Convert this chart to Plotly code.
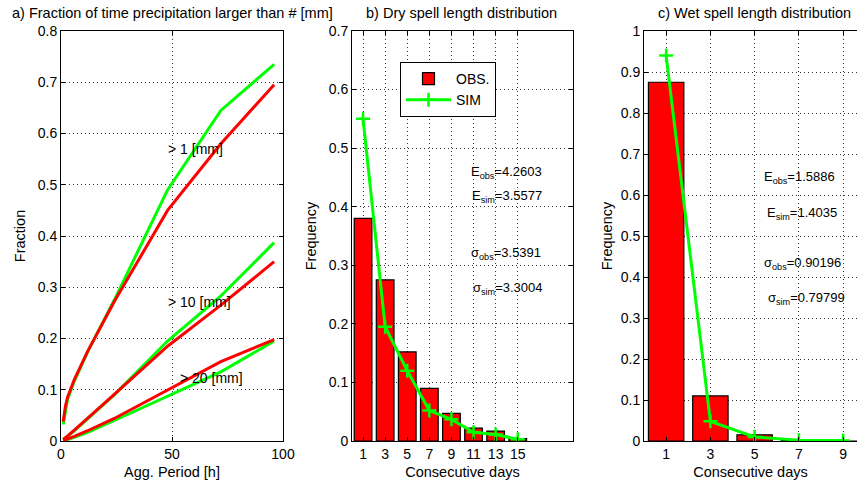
import plotly.graph_objects as go

# ---------------- data ----------------
agg_hours = [1, 2, 3, 6, 12, 24, 48, 72, 96]
obs_gt1 = [0.038, 0.068, 0.086, 0.12, 0.175, 0.272, 0.45, 0.58, 0.695]
sim_gt1 = [0.032, 0.062, 0.082, 0.117, 0.174, 0.275, 0.49, 0.645, 0.735]
obs_gt10 = [0.003, 0.006, 0.01, 0.021, 0.044, 0.091, 0.185, 0.265, 0.35]
sim_gt10 = [0.002, 0.005, 0.009, 0.02, 0.043, 0.09, 0.195, 0.283, 0.387]
obs_gt20 = [0.001, 0.002, 0.004, 0.009, 0.02, 0.044, 0.1, 0.155, 0.198]
sim_gt20 = [0.0, 0.001, 0.003, 0.007, 0.017, 0.04, 0.088, 0.135, 0.195]
threshold_labels = ["> 1 [mm]", "> 10 [mm]", "> 20 [mm]"]
threshold_label_x = [47.5, 47.5, 52.5]
threshold_label_y = [0.57, 0.271, 0.123]

dry_days = [1, 3, 5, 7, 9, 11, 13, 15]
dry_obs = [0.38, 0.275, 0.152, 0.09, 0.047, 0.022, 0.017, 0.004]
dry_sim = [0.55, 0.195, 0.12, 0.052, 0.037, 0.015, 0.011, 0.003]
dry_stats = ["E<sub>obs</sub>=4.2603", "E<sub>sim</sub>=3.5577",
             "σ<sub>obs</sub>=3.5391", "σ<sub>sim</sub>=3.3004"]
dry_stats_x = [10.6, 10.7, 10.6, 10.8]
dry_stats_y = [0.458, 0.418, 0.32, 0.26]

wet_days = [1, 3, 5, 7, 9]
wet_obs = [0.875, 0.11, 0.015, 0.002, 0.0]
wet_sim = [0.94, 0.048, 0.01, 0.002, 0.001]
wet_stats = ["E<sub>obs</sub>=1.5886", "E<sub>sim</sub>=1.4035",
             "σ<sub>obs</sub>=0.90196", "σ<sub>sim</sub>=0.79799"]
wet_stats_x = [5.35, 5.45, 5.35, 5.5]
wet_stats_y = [0.642, 0.556, 0.434, 0.348]

RED = "#ff0000"
GREEN = "#00ff00"
FONT = "Liberation Sans, Arial, sans-serif"

W, H = 857, 483
fig = go.Figure()

# ---------------- panel a ----------------
for obs, sim in [(obs_gt1, sim_gt1), (obs_gt10, sim_gt10), (obs_gt20, sim_gt20)]:
    fig.add_trace(go.Scatter(x=agg_hours, y=sim, mode="lines", line=dict(color=GREEN, width=3),
                             showlegend=False, xaxis="x", yaxis="y"))
    fig.add_trace(go.Scatter(x=agg_hours, y=obs, mode="lines", line=dict(color=RED, width=3),
                             showlegend=False, xaxis="x", yaxis="y"))
for t, xx, yy in zip(threshold_labels, threshold_label_x, threshold_label_y):
    fig.add_annotation(x=xx, y=yy, xref="x", yref="y", text=t, showarrow=False,
                       xanchor="left", yanchor="middle", align="left",
                       font=dict(size=14, color="black"))

# ---------------- panel b ----------------
fig.add_trace(go.Bar(x=dry_days, y=dry_obs, width=1.6, name="OBS.",
                     marker=dict(color=RED, line=dict(color="black", width=1.2)),
                     xaxis="x2", yaxis="y2"))
fig.add_trace(go.Scatter(x=dry_days, y=dry_sim, mode="lines+markers", name="SIM",
                         line=dict(color=GREEN, width=3),
                         marker=dict(symbol="cross-thin", size=10, color=GREEN,
                                     line=dict(color=GREEN, width=2.5)),
                         xaxis="x2", yaxis="y2"))
for t, xx, yy in zip(dry_stats, dry_stats_x, dry_stats_y):
    fig.add_annotation(x=xx, y=yy, xref="x2", yref="y2", text=t, showarrow=False,
                       xanchor="left", yanchor="middle", align="left",
                       font=dict(size=13, color="black"))

# ---------------- panel c ----------------
fig.add_trace(go.Bar(x=wet_days, y=wet_obs, width=1.6, showlegend=False,
                     marker=dict(color=RED, line=dict(color="black", width=1.2)),
                     xaxis="x3", yaxis="y3"))
fig.add_trace(go.Scatter(x=wet_days, y=wet_sim, mode="lines+markers", showlegend=False,
                         line=dict(color=GREEN, width=3),
                         marker=dict(symbol="cross-thin", size=10, color=GREEN,
                                     line=dict(color=GREEN, width=2.5)),
                         xaxis="x3", yaxis="y3"))
for t, xx, yy in zip(wet_stats, wet_stats_x, wet_stats_y):
    fig.add_annotation(x=xx, y=yy, xref="x3", yref="y3", text=t, showarrow=False,
                       xanchor="left", yanchor="middle", align="left",
                       font=dict(size=13, color="black"))

# ---------------- layout ----------------
ML, MR, MT, MB = 0, 0, 31, 42
pw = W - ML - MR

def dom(a, b):
    return [a / pw, min(b / pw, 1.0)]

common_ax = dict(showline=True, linecolor="black", linewidth=1, ticks="inside", ticklen=4,
                 tickcolor="black", showgrid=True, gridcolor="#333", gridwidth=1,
                 griddash="1px,3px", automargin=False,
                 zeroline=False, tickfont=dict(size=14, color="black"))
TF = dict(size=14.5, color="black")

layout = dict(
    width=W, height=H, autosize=False, margin=dict(l=ML, r=MR, t=MT, b=MB),
    paper_bgcolor="white", plot_bgcolor="white",
    font=dict(family=FONT, size=14, color="black"),
    barmode="overlay",
    xaxis=dict(domain=dom(61, 283), range=[0, 100], tickvals=[0, 50, 100], mirror="ticks",
               title=dict(text="Agg. Period [h]", standoff=6, font=TF), anchor="y", **common_ax),
    yaxis=dict(domain=[0, 1], range=[0, 0.8], dtick=0.1, mirror="ticks",
               title=dict(text="Fraction", standoff=8, font=TF), anchor="x", **common_ax),
    xaxis2=dict(domain=dom(352, 573), range=[0, 20], tickvals=dry_days, mirror="ticks",
                title=dict(text="Consecutive days", standoff=6, font=TF), anchor="y2", **common_ax),
    yaxis2=dict(domain=[0, 1], range=[0, 0.7], dtick=0.1, mirror="ticks",
                title=dict(text="Frequency", standoff=8, font=TF), anchor="x2", **common_ax),
    xaxis3=dict(domain=dom(644, 857), range=[0, (857 - 644) / 22.125], tickvals=wet_days,
                mirror="ticks",
                title=dict(text="Consecutive days", standoff=6, font=TF), anchor="y3", **common_ax),
    yaxis3=dict(domain=[0, 1], range=[0, 1], dtick=0.1, mirror=False,
                title=dict(text="Frequency", standoff=4, font=TF), anchor="x3", **common_ax),
    legend=dict(x=400 / pw, y=1 - (62 - MT) / (H - MT - MB), xanchor="left", yanchor="top",
                bgcolor="white", bordercolor="black", borderwidth=1, itemwidth=45,
                font=dict(size=14, color="black"), tracegroupgap=0),
    showlegend=True,
)
fig.update_layout(**layout)

# subplot titles
titles = ["a) Fraction of time precipitation larger than # [mm]",
          "b) Dry spell length distribution",
          "c) Wet spell length distribution"]
centers = [172, 462, 754]
for t, c in zip(titles, centers):
    fig.add_annotation(x=c / pw, y=1, xref="paper", yref="paper", text=t, showarrow=False,
                       xanchor="center", yanchor="bottom", yshift=8,
                       font=dict(size=14.5, color="black"))

fig.write_html("out.html", config={"responsive": False})
